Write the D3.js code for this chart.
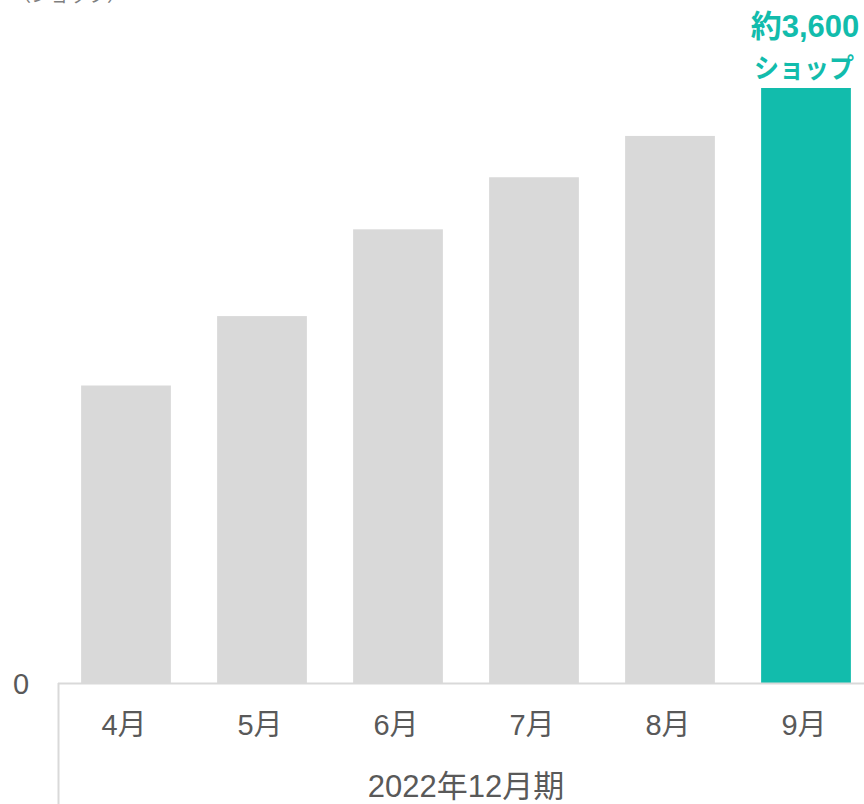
<!DOCTYPE html>
<html>
<head>
<meta charset="utf-8">
<script src="https://cdn.jsdelivr.net/npm/d3@7"></script>
<style>
  html, body { margin: 0; padding: 0; background: #fff; }
  svg { display: block; }
</style>
</head>
<body>
<script>
// Monthly shop counts, fiscal year ending Dec 2022
const months = ["4月", "5月", "6月", "7月", "8月", "9月"];
const shops = [1800, 2220, 2745, 3060, 3310, 3600];
const highlightIndex = 5;
const yTicks = [0];
const periodLabel = "2022年12月期";
const unitLabel = "（ショップ）";
const valueLabelLines = ["約3,600", "ショップ"];

const W = 864, H = 804;
const baseY = 683, axisX = 58;

const svg = d3.select("body").append("svg")
  .attr("width", W).attr("height", H);

const x = d3.scaleBand()
  .domain(months)
  .range([axisX, axisX + 816])
  .paddingInner(0.34)
  .paddingOuter(0.17);

const y = d3.scaleLinear()
  .domain([0, 3600])
  .range([baseY, 88]);

const latin = "'Liberation Sans', Arial, 'Noto Sans CJK JP', sans-serif";

// bars
svg.append("g").selectAll("rect")
  .data(shops)
  .join("rect")
  .attr("x", (d, i) => x(months[i]))
  .attr("width", x.bandwidth())
  .attr("y", d => y(d))
  .attr("height", d => y(0) - y(d))
  .attr("fill", (d, i) => i === highlightIndex ? "#12BCAC" : "#D9D9D9");

// axis lines
svg.append("line")
  .attr("x1", axisX).attr("x2", W)
  .attr("y1", baseY + 0.5).attr("y2", baseY + 0.5)
  .attr("stroke", "#D9D9D9").attr("stroke-width", 2);
svg.append("line")
  .attr("x1", axisX + 0.5).attr("x2", axisX + 0.5)
  .attr("y1", baseY).attr("y2", H)
  .attr("stroke", "#D9D9D9").attr("stroke-width", 2);

// y tick labels
svg.append("g").selectAll("text")
  .data(yTicks)
  .join("text")
  .attr("x", 21)
  .attr("y", d => y(d) + 11)
  .attr("text-anchor", "middle")
  .attr("font-family", latin)
  .attr("font-size", 29)
  .attr("fill", "#595959")
  .text(d => d);

// month labels
svg.append("g").selectAll("text")
  .data(months)
  .join("text")
  .attr("x", d => x(d) + x.bandwidth() / 2 - 2)
  .attr("y", 735)
  .attr("text-anchor", "middle")
  .attr("font-family", latin)
  .attr("font-size", 29)
  .attr("fill", "#595959")
  .text(d => d);

// period label
svg.append("text")
  .attr("x", 466)
  .attr("y", 797)
  .attr("text-anchor", "middle")
  .attr("font-family", latin)
  .attr("font-size", 31)
  .attr("fill", "#595959")
  .text(periodLabel);

// unit label (top left)
svg.append("text")
  .attr("x", 12)
  .attr("y", 2)
  .attr("font-family", latin)
  .attr("font-size", 19)
  .attr("fill", "#7f7f7f")
  .text(unitLabel);

// value callout over highlighted bar
const hx = x(months[highlightIndex]) + x.bandwidth() / 2;
const topY = y(shops[highlightIndex]);
const calloutSizes = [31, 27];
const calloutWidths = [null, 100];
svg.append("g").selectAll("text")
  .data(valueLabelLines)
  .join("text")
  .attr("x", (d, i) => hx - 1 - i)
  .attr("y", (d, i) => topY - 51 + i * 41)
  .attr("text-anchor", "middle")
  .attr("font-family", latin)
  .attr("font-size", (d, i) => calloutSizes[i])
  .attr("font-weight", "bold")
  .attr("fill", "#12BCAC")
  .each(function (d, i) {
    if (calloutWidths[i]) {
      d3.select(this)
        .attr("textLength", calloutWidths[i])
        .attr("lengthAdjust", "spacingAndGlyphs");
    }
  })
  .text(d => d);
</script>
</body>
</html>
